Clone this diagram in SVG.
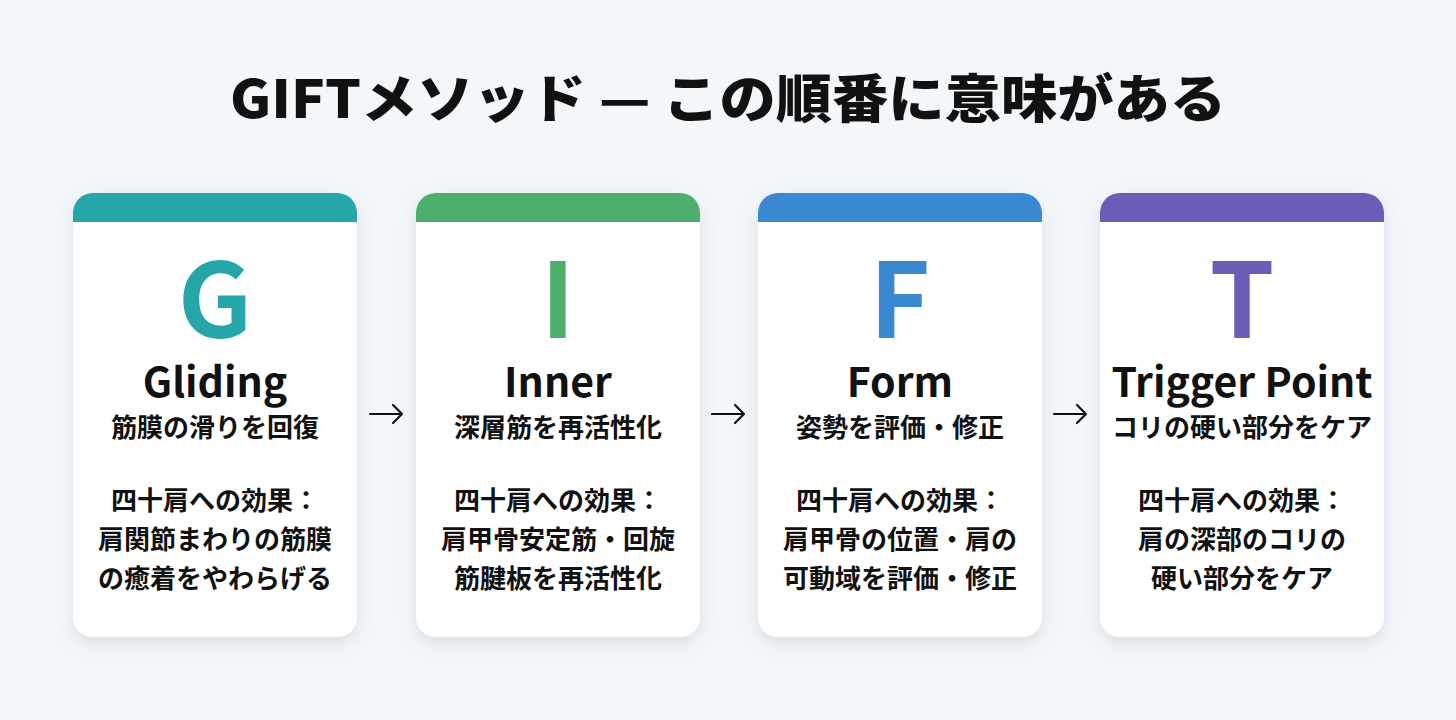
<svg xmlns="http://www.w3.org/2000/svg" width="1456" height="720" viewBox="0 0 1456 720">
<defs>
<filter id="sh" x="-20%" y="-20%" width="140%" height="140%">
<feDropShadow dx="0" dy="6" stdDeviation="8" flood-color="#5a6b80" flood-opacity="0.18"/>
</filter>
<clipPath id="c1"><rect x="73" y="193" width="284" height="444" rx="20"/></clipPath>
<clipPath id="c2"><rect x="416" y="193" width="284" height="444" rx="20"/></clipPath>
<clipPath id="c3"><rect x="758" y="193" width="284" height="444" rx="20"/></clipPath>
<clipPath id="c4"><rect x="1100" y="193" width="284" height="444" rx="20"/></clipPath>
</defs>
<style>
text{font-family:"Noto Sans CJK JP","Noto Sans",sans-serif;text-anchor:middle;fill:#111}
.title{font-size:52px;font-weight:900}
.big{font-size:104px;font-weight:700}
.name{font-size:41px;font-weight:700}
.sub{font-size:26px;font-weight:700}
.eff{font-size:26px;font-weight:700}
.card{fill:#fff}
.arr{stroke:#111;stroke-width:2.2;fill:none;stroke-linecap:round;stroke-linejoin:round}
</style>
<rect width="1456" height="720" fill="#f3f7fa"/>
<text class="title" x="728" y="118" textLength="996" lengthAdjust="spacingAndGlyphs">GIFTメソッド — この順番に意味がある</text>

<g id="card-g">
<rect class="card" x="73" y="193" width="284" height="444" rx="20" filter="url(#sh)"/>
<rect x="73" y="193" width="284" height="29" fill="#26a6a8" clip-path="url(#c1)"/>
<text class="big" x="215" y="338" style="fill:#26a6a8">G</text>
<text class="name" x="215" y="397">Gliding</text>
<text class="sub" x="215" y="437">筋膜の滑りを回復</text>
<text class="eff" x="215" y="510">四十肩への効果：</text>
<text class="eff" x="215" y="549">肩関節まわりの筋膜</text>
<text class="eff" x="215" y="588">の癒着をやわらげる</text>
</g>

<g id="card-i">
<rect class="card" x="416" y="193" width="284" height="444" rx="20" filter="url(#sh)"/>
<rect x="416" y="193" width="284" height="29" fill="#4caf6b" clip-path="url(#c2)"/>
<text class="big" x="558" y="338" style="fill:#4caf6b">I</text>
<text class="name" x="558" y="397">Inner</text>
<text class="sub" x="558" y="437">深層筋を再活性化</text>
<text class="eff" x="558" y="510">四十肩への効果：</text>
<text class="eff" x="558" y="549">肩甲骨安定筋・回旋</text>
<text class="eff" x="558" y="588">筋腱板を再活性化</text>
</g>

<g id="card-f">
<rect class="card" x="758" y="193" width="284" height="444" rx="20" filter="url(#sh)"/>
<rect x="758" y="193" width="284" height="29" fill="#3a88d2" clip-path="url(#c3)"/>
<text class="big" x="900" y="338" style="fill:#3a88d2">F</text>
<text class="name" x="900" y="397">Form</text>
<text class="sub" x="900" y="437">姿勢を評価・修正</text>
<text class="eff" x="900" y="510">四十肩への効果：</text>
<text class="eff" x="900" y="549">肩甲骨の位置・肩の</text>
<text class="eff" x="900" y="588">可動域を評価・修正</text>
</g>

<g id="card-t">
<rect class="card" x="1100" y="193" width="284" height="444" rx="20" filter="url(#sh)"/>
<rect x="1100" y="193" width="284" height="29" fill="#6b5cb8" clip-path="url(#c4)"/>
<text class="big" x="1242" y="338" style="fill:#6b5cb8">T</text>
<text class="name" x="1242" y="397">Trigger Point</text>
<text class="sub" x="1242" y="437">コリの硬い部分をケア</text>
<text class="eff" x="1242" y="510">四十肩への効果：</text>
<text class="eff" x="1242" y="549">肩の深部のコリの</text>
<text class="eff" x="1242" y="588">硬い部分をケア</text>
</g>

<g id="connectors">
<path class="arr" d="M370 414 H402 M393 405 L402 414 L393 423"/>
<path class="arr" d="M712 414 H744 M735 405 L744 414 L735 423"/>
<path class="arr" d="M1054 414 H1086 M1077 405 L1086 414 L1077 423"/>
</g>
</svg>
